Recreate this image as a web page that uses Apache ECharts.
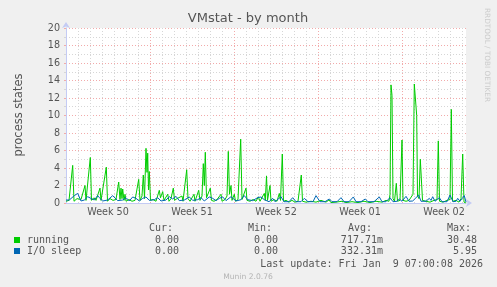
<!DOCTYPE html>
<html><head><meta charset="utf-8">
<script src="https://cdn.jsdelivr.net/npm/echarts@6/dist/echarts.min.js"></script>
<style>html,body{margin:0;padding:0;background:#F0F0F0;}#c{width:497px;height:287px;}</style>
</head><body><div id="c"></div>
<script>
// ---- data (x = 2-hour slot since graph start; 84 slots per week) ----
const chartTitle = 'VMstat - by month';
const yAxisName = 'process states';
const weekLabels = ['Week 50', 'Week 51', 'Week 52', 'Week 01', 'Week 02'];
const seriesNames = ['running', 'I/O sleep'];
const runningSlots = [0,3,5,6.7,8,11,13,15,17,19,20,22,24.3,25.5,28,30,32,34,35,37,40.3,41.5,44,47,50,52.7,54,55,56,56.7,58,59,60,63,66,69,71,72.7,74,76,77.3,78.5,80,81,81.7,82.5,83.3,84.5,87,90,93.3,94.5,96.7,98,100,101.7,103,105,107.3,108.5,111,113,116,117,119,120.7,122,124,126,128,129,131,132.7,134,136,137.3,138.3,139.3,140.5,142,144.3,145.5,148,151,153,155,156,159,161,162.3,163.5,165,166,168.3,169.5,172,174.7,176,178,180,181,184,187,190,192.3,194,196,198.3,199.3,200.5,201.5,203,204,205,208,211,213.3,214.5,216.3,217.5,220,223,226,229,232,235.3,236.5,240,245,250,255,260,263,265,270,276,280,286,292,298,304,310,316,320,323,324,325,326,327,328.5,330.3,331.5,334,336,337,340,343,345,347,348.3,349.7,350.7,351.5,353,354.3,355.3,356.5,360,364,368,371,372.3,373.5,377,381,384,385.3,386.5,390,393,395,396.7,398,400];
const runningValues = [0.2,0.3,0.1,4.3,0.2,0.5,0.3,0.4,0.2,2.0,0.3,0.4,5.2,0.3,0.6,0.3,0.2,1.7,0.3,0.2,4.1,0.2,0.5,0.3,0.4,2.4,0.4,1.7,0.5,1.6,0.3,1.0,0.2,0.4,0.2,0.3,0.4,2.7,0.3,0.8,3.2,0.5,6.25,3.5,5.7,1.5,3.6,0.3,0.4,0.2,1.45,0.6,1.3,0.3,0.4,1.0,0.2,0.5,1.7,0.3,0.5,0.3,0.8,0.2,0.4,3.8,0.5,0.2,0.3,1.0,0.2,0.4,1.45,0.3,0.8,4.5,2.0,5.8,0.6,0.4,1.7,0.3,0.2,0.4,0.2,1.0,0.2,0.4,0.8,5.9,1.0,2.0,0.3,1.0,0.2,0.4,7.3,0.4,0.6,1.7,0.3,0.2,0.4,0.2,0.7,0.2,0.4,1.1,0.3,3.1,0.3,0.5,2.0,0.2,0.4,0.2,1.1,0.3,5.6,0.2,0.3,0.1,0.3,0.1,0.2,3.2,0.2,0.1,0.2,0.1,0.3,0.1,0.35,0.05,0.1,0.2,0.05,0.15,0.05,0.2,0.05,0.2,0.1,0.3,0.2,1.0,13.5,12.3,0.5,0.2,2.25,0.2,0.3,7.2,0.3,0.2,0.3,0.4,1.0,13.6,13.5,10.0,0.8,0.5,5.0,4.8,0.3,0.2,0.1,0.3,0.4,7.1,0.2,0.1,0.3,0.4,10.7,0.2,0.3,0.1,0.5,5.6,0.1,0.0];
const ioSlots = [0,3.3,5,8.3,11.7,13.3,15,18.3,20,21.7,25,28.3,31.7,33.3,36.7,41.7,46.7,48.3,51.7,56.7,60,63.3,66.7,70,73.3,76.7,80,83.3,88.3,91.7,95,100,103.3,106.7,110,113.3,118.3,123.3,126.7,131.7,135,138.3,143.3,146.7,150,153.3,156.7,160,165,166.7,170,175,178.3,181.7,186.7,191.7,195,198.3,200,203,206.7,209,215,218,223,226.7,230,235,238.3,242,247,250,254,259,263.3,266,271,275,278,283,287.3,290,295,299.3,302,308,313.3,316,320,324,327,331,333.3,336,340,343,346.7,352.7,355,360,363.3,365,366.7,369,373.3,376,381,384,387,390,391.7,394,398.3,400];
const ioValues = [0.34,0.34,0.53,0.84,1.1,0.99,0.23,0.34,0.34,0.72,0.53,0.34,0.84,0.61,0.23,0.34,0.84,0.72,0.27,0.34,0.61,0.23,0.69,0.53,0.23,0.53,0.69,0.3,0.38,0.61,0.23,0.34,0.72,0.46,0.76,0.27,0.34,0.69,0.3,0.38,0.61,0.23,0.69,0.53,0.27,0.53,0.69,0.27,0.72,0.61,0.23,0.38,0.84,0.38,0.27,0.61,0.69,0.38,0.3,0.15,0.53,0.15,0.72,0.15,0.15,0.61,0.15,0.15,0.53,0.15,0.15,0.84,0.15,0.15,0.46,0.15,0.15,0.61,0.15,0.15,0.69,0.15,0.15,0.46,0.15,0.15,0.69,0.15,0.15,0.61,0.15,0.2,0.46,0.2,0.76,0.2,0.23,0.91,0.2,0.2,0.53,0.3,0.72,0.2,0.61,0.15,0.15,0.91,0.15,0.2,0.53,0.2,0.84,0.1];
const legendHeaders = ['Cur:', 'Min:', 'Avg:', 'Max:'];
const legendCur = ['0.00', '0.00'];
const legendMin = ['0.00', '0.00'];
const legendAvg = ['717.71m', '332.31m'];
const legendMax = ['30.48', '5.95'];
const lastUpdate = 'Last update: Fri Jan  9 07:00:08 2026';
const footer = 'Munin 2.0.76';
const sideText = 'RRDTOOL / TOBI OETIKER';

// ---- styles ----
const FONT = '#555555';
const AXIS = '#C4CBF4';
const GRID = '#D6D6D6';
const MGRID = '#F2AAAA';
const COLORS = ['#00CC00', '#0066B3'];
const SANS = 'DejaVu Sans';
const MONO = 'DejaVu Sans Mono';

function pairs(xs, ys) { return xs.map((x, i) => [x, ys[i]]); }

const chart = echarts.init(document.getElementById('c'), null, {renderer: 'canvas'});

function txt(text, x, y, opt) {
  opt = opt || {};
  return {
    type: 'text', x: x, y: y, rotation: opt.rotation || 0, z: 100,
    style: {
      text: text, fill: opt.color || FONT,
      font: (opt.size || 10) + 'px "' + (opt.family || MONO) + '"',
      textAlign: opt.align || 'left', align: opt.align || 'left',
      textVerticalAlign: 'middle', verticalAlign: 'middle'
    }
  };
}

const graphics = [
  txt(chartTitle, 248, 19, {family: SANS, size: 13, align: 'center', color: '#555'}),
  txt(yAxisName, 19, 115, {family: SANS, size: 11.5, align: 'center', rotation: Math.PI / 2}),
  txt(sideText, 487, 55, {family: SANS, size: 7.3, align: 'center', rotation: -Math.PI / 2, color: '#CCCCCC'}),
  txt(legendHeaders[0], 149, 228), txt(legendHeaders[1], 248, 228),
  txt(legendHeaders[2], 348, 228), txt(legendHeaders[3], 447, 228),
  txt(lastUpdate, 483, 264, {align: 'right'}),
  txt(footer, 248, 277, {family: SANS, size: 7.6, align: 'center', color: '#B4B4B4'})
];
const rowY = [240, 251];
seriesNames.forEach((n, i) => {
  graphics.push({type: 'rect', shape: {x: 14, y: rowY[i] - 3, width: 6, height: 6}, style: {fill: COLORS[i]}, z: 100});
  graphics.push(txt(n, 27, rowY[i]));
  graphics.push(txt(legendCur[i], 179, rowY[i], {align: 'right'}));
  graphics.push(txt(legendMin[i], 278, rowY[i], {align: 'right'}));
  graphics.push(txt(legendAvg[i], 383, rowY[i], {align: 'right'}));
  graphics.push(txt(legendMax[i], 477, rowY[i], {align: 'right'}));
});

const hiddenAxisBase = {axisLine: {show: false}, axisLabel: {show: false}};

chart.setOption({
  animation: false,
  backgroundColor: '#F0F0F0',
  grid: {left: 66, top: 28, width: 400, height: 175, show: true, backgroundColor: '#FFFFFF', borderWidth: 0},
  xAxis: [
    Object.assign({type: 'value', min: 0, max: 400, interval: 12, position: 'bottom',
      axisTick: {show: false},
      splitLine: {show: true, showMinLine: false, showMaxLine: false, lineStyle: {color: GRID, type: [1, 2], width: 1}}}, hiddenAxisBase),
    Object.assign({type: 'value', min: 0, max: 400, interval: 84, position: 'bottom',
      axisTick: {show: false},
      splitLine: {show: true, showMinLine: false, showMaxLine: false, lineStyle: {color: MGRID, type: [1, 2], width: 1}}}, hiddenAxisBase),
    {type: 'value', min: 0, max: 400, interval: 42, position: 'bottom',
      axisLine: {show: true, onZero: false, lineStyle: {color: AXIS, width: 1}, symbol: ['none', 'arrow'], symbolSize: [6, 6], symbolOffset: [0, 6]},
      axisTick: {show: false}, splitLine: {show: false},
      axisLabel: {show: true, color: FONT, fontFamily: SANS, fontSize: 9.6, margin: 4,
        showMinLabel: false, showMaxLabel: false,
        formatter: function (v) { const k = (v - 42) / 84; return (Number.isInteger(k) && weekLabels[k]) ? weekLabels[k] : ''; }}}
  ],
  yAxis: [
    {type: 'value', min: 0, max: 20, interval: 1, position: 'left',
      axisLine: {show: false}, axisLabel: {show: false},
      axisTick: {show: true, length: 2, lineStyle: {color: GRID}},
      splitLine: {show: true, showMinLine: false, lineStyle: {color: GRID, type: [1, 2], width: 1}}},
    {type: 'value', min: 0, max: 20, interval: 2, position: 'left',
      axisLine: {show: true, onZero: false, lineStyle: {color: AXIS, width: 1}, symbol: ['none', 'arrow'], symbolSize: [6, 6], symbolOffset: [0, 6]},
      axisTick: {show: true, length: 2, lineStyle: {color: MGRID}},
      axisLabel: {color: FONT, fontFamily: SANS, fontSize: 9.6, margin: 6},
      splitLine: {show: true, showMinLine: false, lineStyle: {color: MGRID, type: [1, 2], width: 1}}}
  ],
  series: [
    {name: seriesNames[0], type: 'line', xAxisIndex: 0, yAxisIndex: 0, data: pairs(runningSlots, runningValues),
      showSymbol: false, symbol: 'none', lineStyle: {color: COLORS[0], width: 1}, itemStyle: {color: COLORS[0]}, z: 3},
    {name: seriesNames[1], type: 'line', xAxisIndex: 0, yAxisIndex: 0, data: pairs(ioSlots, ioValues),
      showSymbol: false, symbol: 'none', lineStyle: {color: COLORS[1], width: 1}, itemStyle: {color: COLORS[1]}, z: 4}
  ],
  graphic: graphics
});
</script></body></html>
